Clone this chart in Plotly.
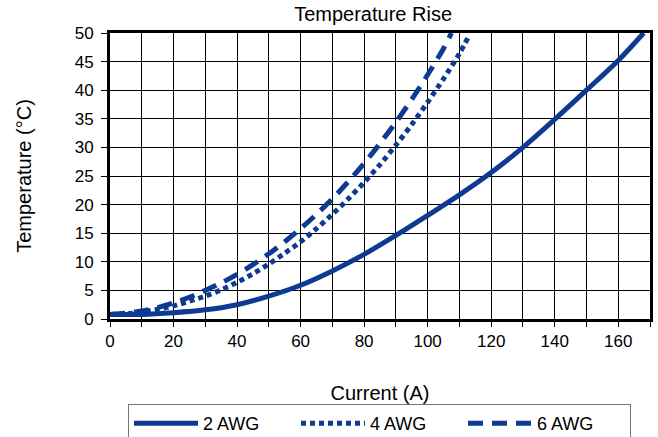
import plotly.graph_objects as go

# Data
x_2awg = [0, 10, 20, 30, 40, 50, 60, 70, 80, 90, 100, 110, 120, 130, 140, 150, 160, 168]
t_2awg = [0.8, 0.8, 1.1, 1.6, 2.5, 4.0, 5.9, 8.4, 11.3, 14.6, 18.1, 21.7, 25.6, 30.0, 34.9, 40.0, 45.2, 50]

x_4awg = [0, 5, 10, 15, 20, 25, 30, 35, 40, 45, 50, 55, 60, 65, 70, 75, 80, 85, 90, 95, 100, 105, 110, 113]
t_4awg = [0.8, 0.9, 1.2, 1.7, 2.3, 3.1, 4.0, 5.1, 6.4, 7.9, 9.6, 11.5, 13.5, 15.8, 18.3, 21.0, 23.9, 27.0, 30.4, 34.0, 37.9, 42.0, 46.4, 49.5]

x_6awg = [0, 5, 10, 15, 20, 25, 30, 35, 40, 45, 50, 55, 60, 65, 70, 75, 80, 85, 90, 95, 100, 105, 107.5]
t_6awg = [0.8, 1.0, 1.4, 2.0, 2.8, 3.8, 5.0, 6.3, 7.8, 9.5, 11.4, 13.5, 15.8, 18.3, 21.0, 24.0, 27.2, 30.7, 34.4, 38.4, 42.7, 47.3, 50]

x_tickvals = list(range(0, 171, 10))
x_ticktext = [str(v) if v % 20 == 0 and v <= 160 else "" for v in x_tickvals]
y_tickvals = list(range(0, 51, 5))

BLUE = "#0e3a92"
FONT = "Liberation Sans, Arial, sans-serif"

fig = go.Figure()
fig.add_trace(go.Scatter(x=x_2awg, y=t_2awg, mode="lines", name="2 AWG",
                         line=dict(color=BLUE, width=5, shape="spline", smoothing=0.8)))
fig.add_trace(go.Scatter(x=x_4awg, y=t_4awg, mode="lines", name="4 AWG",
                         line=dict(color=BLUE, width=5, dash="5px,4px", shape="spline", smoothing=0.8)))
fig.add_trace(go.Scatter(x=x_6awg, y=t_6awg, mode="lines", name="6 AWG",
                         line=dict(color=BLUE, width=5, dash="15px,9px", shape="spline", smoothing=0.8)))

fig.update_layout(
    width=658, height=437,
    margin=dict(l=110, r=8, t=33, b=118),
    paper_bgcolor="white", plot_bgcolor="white",
    font=dict(family=FONT, size=17, color="black"),
    title=dict(text="Temperature Rise", x=0.567, xanchor="center", y=0.968, yanchor="middle",
               font=dict(size=20, family=FONT, color="black")),
    xaxis=dict(range=[0, 170], tickvals=x_tickvals, ticktext=x_ticktext,
               showgrid=True, gridcolor="black", gridwidth=1,
               showline=True, linecolor="black", linewidth=3, mirror=True,
               ticks="outside", ticklen=5, tickcolor="black", tickwidth=1,
               zeroline=False, automargin=False,
               title=dict(text="Current (A)", standoff=42, font=dict(size=20))),
    yaxis=dict(range=[0, 50], tickvals=y_tickvals,
               showgrid=True, gridcolor="black", gridwidth=1,
               showline=True, linecolor="black", linewidth=3, mirror=True,
               ticks="outside", ticklen=6, tickcolor="black", tickwidth=1,
               ticklabelstandoff=4,
               zeroline=False, automargin=False,
               title=dict(text="Temperature (°C)", standoff=38, font=dict(size=20))),
    legend=dict(orientation="h", xref="container", yref="container",
                x=128 / 658, xanchor="left", y=1 - 404 / 437, yanchor="top",
                bordercolor="#777777", borderwidth=1, bgcolor="white",
                itemwidth=64, entrywidth=88, entrywidthmode="pixels",
                font=dict(size=18, family=FONT)),
    showlegend=True,
)

# remove the page's default body margin so the figure sits at the window origin
fix = "document.body.style.margin='0';document.body.style.overflow='hidden';"
fig.write_html("out.html", post_script=fix, config={"displayModeBar": False})
